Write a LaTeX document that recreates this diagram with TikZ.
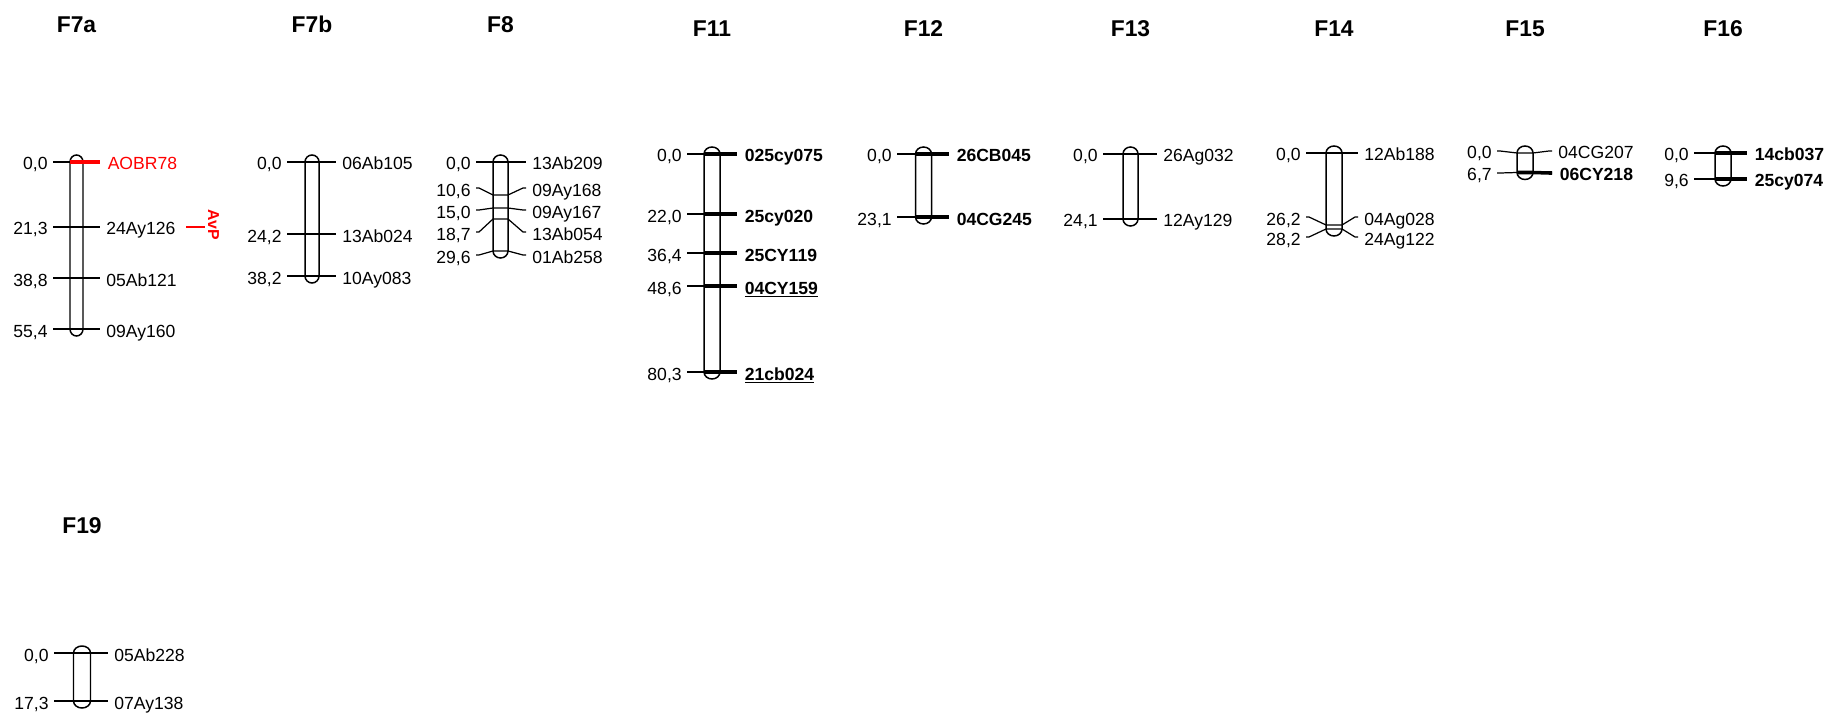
\documentclass[tikz,border=0pt]{standalone}
\usepackage{fontspec}
\setmainfont{Liberation Sans}
\usepackage{xcolor}
\usepackage{tikz}
\definecolor{qtlred}{RGB}{255,0,0}
\newcommand{\lblfont}{\fontsize{10}{12}\selectfont}
\tikzset{
  grptitle/.style={anchor=base, inner sep=0pt, font=\fontsize{13}{15}\selectfont\bfseries},
  chrbox/.style={draw=black, fill=white, line width=0.85pt},
  tickln/.style={draw=black, line width=0.7pt},
  poslab/.style={anchor=base east, inner sep=0pt, font=\lblfont},
  mklab/.style={anchor=base west, inner sep=0pt, font=\lblfont},
  mkplain/.style={draw=none},
  mkbold/.style={line width=2pt, font=\lblfont\bfseries},
  mkred/.style={color=qtlred, line width=2pt},
  qtllab/.style={color=qtlred, rotate=-90, inner sep=0pt, outer sep=2pt,
    font=\fontsize{9}{11}\selectfont\bfseries}
}
% one linkage group: name, x, half width, tick start, tick end, title base, top, bottom, markers
\newcommand{\chrom}[9]{%
  \node[grptitle] (#1) at (#2,#6) {#1};
  \draw[chrbox] ({#2-#3},#7) -- ({#2-#3},#8)
    arc[start angle=180, end angle=0, x radius=#3, y radius=7] -- ({#2+#3},#7)
    arc[start angle=0, end angle=-180, x radius=#3, y radius=7] -- cycle;
  \foreach \ym/\yl/\pos/\name/\sty [count=\i] in {#9}{
    \draw[tickln] (#4,\yl) -- ++(3,0) -- ({#2-#3},\ym) -- ({#2+#3},\ym) -- ({#5-3},\yl) -- (#5,\yl);
    \draw[\sty] ({#2-#3},\ym) -- ({#2+#3},\ym) -- ({#5-3},\yl) -- (#5,\yl);
    \node[poslab] (#1-p\i) at ({#4-5},{\yl+8}) {\pos};
    \node[mklab, \sty] (#1-m\i) at ({#5+6},{\yl+8}) {\name};
  }}
\begin{document}
\begin{tikzpicture}[x=0.02cm, y=-0.02cm]
  \path[fill=white] (0,0) rectangle (1841,716);
  \useasboundingbox (0,0) rectangle (1841,716);

  \chrom{F7a}{76.5}{6.5}{53}{100}{33}{162}{329}{162/162/{0,0}/AOBR78/mkred,
    227/227/{21,3}/24Ay126/mkplain, 278/278/{38,8}/05Ab121/mkplain,
    329/329/{55,4}/09Ay160/mkplain}
  \chrom{F7b}{312}{7}{287}{336}{33}{162}{276}{162/162/{0,0}/06Ab105/mkplain,
    234/234/{24,2}/13Ab024/mkplain, 276/276/{38,2}/10Ay083/mkplain}
  \chrom{F8}{500.5}{7.5}{476}{526}{33}{162}{251}{162/162/{0,0}/13Ab209/mkplain,
    195/188/{10,6}/09Ay168/mkplain, 208/210/{15,0}/09Ay167/mkplain,
    219/232/{18,7}/13Ab054/mkplain, 251/255/{29,6}/01Ab258/mkplain}
  \chrom{F11}{712}{8}{687}{737}{37}{154}{372}{154/154/{0,0}/025cy075/mkbold,
    214/214/{22,0}/25cy020/mkbold, 253/253/{36,4}/25CY119/mkbold,
    286/286/{48,6}/\underline{04CY159}/mkbold, 372/372/{80,3}/\underline{21cb024}/mkbold}
  \chrom{F12}{923.5}{8}{897}{949}{37}{154}{217}{154/154/{0,0}/26CB045/mkbold,
    217/217/{23,1}/04CG245/mkbold}
  \chrom{F13}{1130.5}{7.5}{1103}{1157}{37}{154}{219}{154/154/{0,0}/26Ag032/mkplain,
    219/219/{24,1}/12Ay129/mkplain}
  \chrom{F14}{1334}{8}{1306}{1358}{37}{153}{229}{153/153/{0,0}/12Ab188/mkplain,
    225/217/{26,2}/04Ag028/mkplain, 229/237/{28,2}/24Ag122/mkplain}
  \chrom{F15}{1525}{8}{1497}{1552}{37}{153}{172.5}{153/151/{0,0}/04CG207/mkplain,
    172.5/173/{6,7}/06CY218/mkbold}
  \chrom{F16}{1723}{8}{1694}{1747}{37}{153}{179}{153/153/{0,0}/14cb037/mkbold,
    179/179/{9,6}/25cy074/mkbold}
  \chrom{F19}{82}{8.5}{54}{108}{533}{653}{701}{653/653/{0,0}/05Ab228/mkplain,
    701/701/{17,3}/07Ay138/mkplain}

  % QTL next to F7a
  \node[qtllab] (qtl) at (213.5,225) {AvP};
  \coordinate (qtlstart) at (186,227);
  \draw[qtlred, line width=0.7pt] (qtlstart) -- (qtlstart -| qtl.south);
\end{tikzpicture}
\end{document}
